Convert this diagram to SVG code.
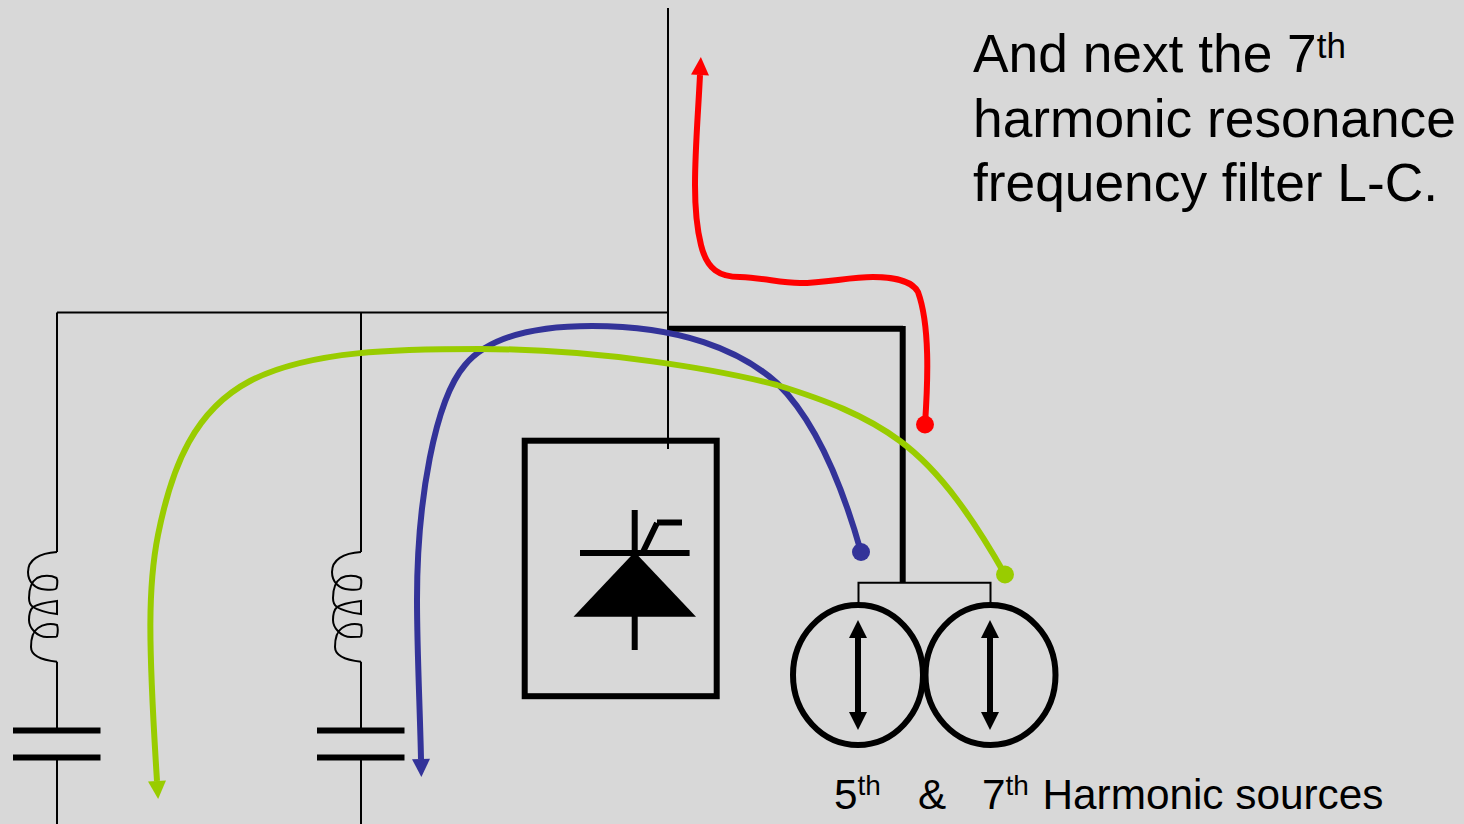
<svg xmlns="http://www.w3.org/2000/svg" width="1464" height="824" viewBox="0 0 1464 824">
<style>
.thin{fill:none;stroke:#000;stroke-width:2}
.thick{fill:none;stroke:#000;stroke-width:6}
.plate{fill:none;stroke:#000;stroke-width:6}
.flow{fill:none;stroke-width:6}
text{font-family:"Liberation Sans",Arial,sans-serif;fill:#000}
.big{font-size:53.300px}
.bigsup{font-size:35px}
.small{font-size:42.300px}
.smallsup{font-size:28px}
</style>
<defs>
<marker id="arrowRed" markerUnits="userSpaceOnUse" markerWidth="20" markerHeight="20" refX="0" refY="9" orient="auto" overflow="visible"><path d="M0 0L18 9L0 18Z" fill="#FF0000"/></marker>
<marker id="arrowBlue" markerUnits="userSpaceOnUse" markerWidth="20" markerHeight="20" refX="0" refY="9" orient="auto" overflow="visible"><path d="M0 0L18 9L0 18Z" fill="#333399"/></marker>
<marker id="arrowGreen" markerUnits="userSpaceOnUse" markerWidth="20" markerHeight="20" refX="0" refY="9" orient="auto" overflow="visible"><path d="M0 0L18 9L0 18Z" fill="#99CC00"/></marker>
<marker id="dotRed" markerUnits="userSpaceOnUse" markerWidth="20" markerHeight="20" refX="9" refY="9" overflow="visible"><circle cx="9" cy="9" r="9" fill="#FF0000"/></marker>
<marker id="dotBlue" markerUnits="userSpaceOnUse" markerWidth="20" markerHeight="20" refX="9" refY="9" overflow="visible"><circle cx="9" cy="9" r="9" fill="#333399"/></marker>
<marker id="dotGreen" markerUnits="userSpaceOnUse" markerWidth="20" markerHeight="20" refX="9" refY="9" overflow="visible"><circle cx="9" cy="9" r="9" fill="#99CC00"/></marker>
<marker id="blackHead" markerUnits="userSpaceOnUse" markerWidth="20" markerHeight="20" refX="0" refY="9" orient="auto-start-reverse" overflow="visible"><path d="M0 0L18 9L0 18Z" fill="#000"/></marker>
<path id="coil" class="thin" d="M0 552C-18 553 -29 560 -29 572C-29 582 -22 589 -12 589.500C-6 590 -1 590 -0.500 588C0.500 584 0.500 580 -0.500 578C-6 575 -14 575 -20 578C-26 582 -28 590 -28 598C-28 603 -27 605 -24 607C-18 611 -8 613 0 614L0 601C-8 602 -18 603 -24 607C-27 610 -28 615 -28 620C-28 628 -20 637 -10 637C-4 637 0 637 0 636C1 632 1 628 0 625C-6 623 -14 624 -19 628C-25 632 -26 640 -26 647C-26 655 -16 660 0 661.700"/>
</defs>
<rect id="background" width="1464" height="824" fill="#D8D8D8"/>
<g id="wiring">
<path class="thin" d="M668 8V449"/>
<path class="thin" d="M57 312.500H668"/>
<path class="thick" d="M668 328.700H903M902.700 326V583"/>
<path class="thin" d="M858.500 603V582.700H990.500V603"/>
</g>
<g id="filter-left">
<path class="thin" d="M57 312.500V552M57 661.700V730M57 757V824"/>
<use href="#coil" x="57"/>
<path class="plate" d="M13 730.500H100.500M13 757.500H100.500"/>
</g>
<g id="filter-right">
<path class="thin" d="M361 312.500V552M361 661.700V730M361 757V824"/>
<use href="#coil" x="361"/>
<path class="plate" d="M317 730.500H404.500M317 757.500H404.500"/>
</g>
<g id="converter">
<rect class="thick" x="524.700" y="440.700" width="192" height="255.500"/>
<path class="plate" d="M634.700 510V650M580 553H689.600M642.500 553L657 523M657 522.500H682"/>
<path d="M573.500 616.700H696L634.700 552Z" fill="#000"/>
</g>
<g id="source-5th">
<ellipse class="thick" cx="858" cy="675" rx="65" ry="70"/>
<path class="thick" d="M858 638V712" marker-start="url(#blackHead)" marker-end="url(#blackHead)"/>
</g>
<g id="source-7th">
<ellipse class="thick" cx="990.500" cy="675" rx="65" ry="70"/>
<path class="thick" d="M990 638V712" marker-start="url(#blackHead)" marker-end="url(#blackHead)"/>
</g>
<g id="connectors">
<path class="flow" stroke="#FF0000" marker-start="url(#dotRed)" marker-end="url(#arrowRed)" d="M925 424.500C928 380 930 325 918 292C912 280 890 277 873 277C850 277 825 283 800 283C780 283 765 278 740 277C720 277 707 270 701 245C696 225 695 205 695 185C695 150 698 115 700 75"/>
<path class="flow" stroke="#333399" marker-start="url(#dotBlue)" marker-end="url(#arrowBlue)" d="M861 552C845 495 820 425 777 383C740 350 680 326 592 326C540 326 490 335 465 365C435 400 417 500 417 600C417 650 420 710 421 759"/>
<path class="flow" stroke="#99CC00" marker-start="url(#dotGreen)" marker-end="url(#arrowGreen)" d="M1005 574.500C975 522 942 472 900 441C865 415 825 400 777 385C720 370 600 349 480 349C400 349 310 350 250 381C195 410 172 465 158 535C148 585 148 640 157 781"/>
</g>
<g id="caption">
<text class="big" x="973" y="72">And next the 7<tspan class="bigsup" dy="-14">th</tspan></text>
<text class="big" x="973" y="137">harmonic resonance</text>
<text class="big" x="973" y="201">frequency filter L-C.</text>
</g>
<g id="source-label">
<text class="small" x="834" y="809">5<tspan class="smallsup" dy="-14">th</tspan></text>
<text class="small" x="918" y="809">&amp;</text>
<text class="small" x="982" y="809">7<tspan class="smallsup" dy="-14">th</tspan></text>
<text class="small" x="1042.500" y="809">Harmonic sources</text>
</g>
</svg>
